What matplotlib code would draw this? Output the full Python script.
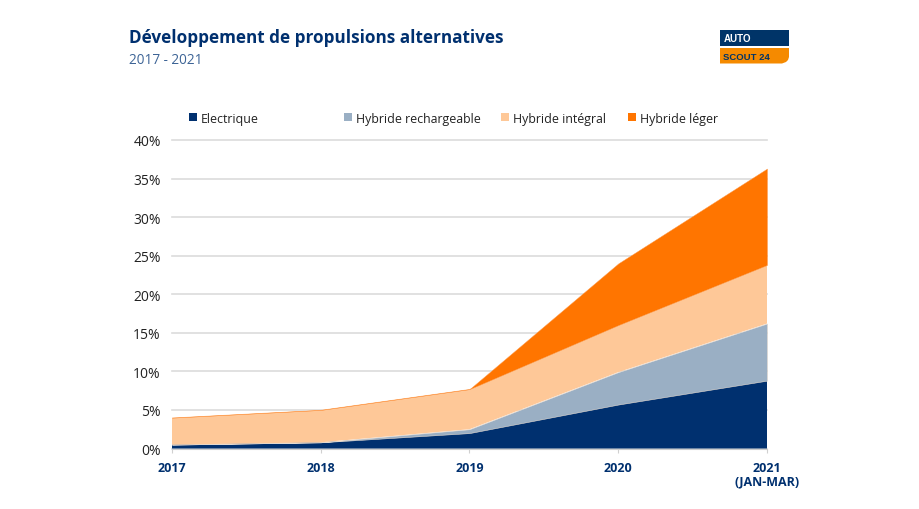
from matplotlib import pyplot as plt
from matplotlib.patches import Rectangle, Polygon

plt.rcParams['font.family'] = ['Open Sans', 'DejaVu Sans']

years = [0, 1, 2, 3, 4]
year_labels = ["2017", "2018", "2019", "2020", "2021\n(JAN-MAR)"]
electrique = [0.5, 0.8, 2.0, 5.7, 8.8]
rechargeable = [0.0, 0.0, 0.5, 4.2, 7.4]
integral = [3.5, 4.2, 5.2, 6.1, 7.6]
leger = [0.0, 0.0, 0.0, 8.0, 12.5]
series_names = ["Electrique", "Hybride rechargeable", "Hybride intégral", "Hybride léger"]
y_ticks = [0, 5, 10, 15, 20, 25, 30, 35, 40]

NAVY = "#00306f"
colors = ["#00306f", "#9aafc4", "#fec898", "#ff7500"]
W, H = 920, 510

fig = plt.figure(figsize=(W / 100, H / 100), dpi=100, facecolor="white")
ax = fig.add_axes([172 / W, 1 - 449.5 / H, (767 - 172) / W, (449.5 - 141) / H])

polys = ax.stackplot(years, electrique, rechargeable, integral, leger, colors=colors,
                     edgecolor="none", zorder=3)
# fines lignes entre les couches
polys[1].set_edgecolor("#e3d9cf")
polys[1].set_linewidth(0.4)
polys[3].set_edgecolor("#fd9c50")
polys[3].set_linewidth(0.3)

ax.set_xlim(0, 4)
ax.set_ylim(0, 40)
ax.set_yticks(y_ticks)
ax.set_yticklabels(["{}%".format(i) for i in y_ticks], fontsize=10, color="#222222")
ax.set_xticks(years)
ax.set_xticklabels(year_labels, fontsize=9, color=NAVY, fontweight="bold", linespacing=1.05)
ax.tick_params(axis="y", length=0, pad=8)
ax.tick_params(axis="x", length=3, width=0.8, color="#d0d0d0", pad=6)
for lab in ax.get_xticklabels():
    lab.set_verticalalignment("top")
ax.grid(axis="y", color="#dcdcdc", linewidth=1.2, zorder=0, clip_on=False)
ax.set_axisbelow(True)
for s in ax.spines.values():
    s.set_visible(False)
ax.spines["bottom"].set_visible(True)
ax.spines["bottom"].set_color("#cccccc")
ax.spines["bottom"].set_linewidth(0.8)

# titres
fig.text(129 / W, 1 - 38 / H, "Développement de propulsions alternatives", fontsize=12.3,
         fontweight="bold", color=NAVY, va="center")
fig.text(129 / W, 1 - 61 / H, "2017 - 2021", fontsize=9.8, color="#3d6496", va="center")

# legende
legend_x = [189, 344, 501, 628]
for name, col, lx in zip(series_names, colors, legend_x):
    fig.add_artist(Rectangle((lx / W, 1 - 122 / H), 8 / W, 8 / H, transform=fig.transFigure,
                             facecolor=col, edgecolor="none"))
    fig.text((lx + 12) / W, 1 - 119 / H, name, fontsize=8.9, color="#222222", va="center")

# logo
fig.add_artist(Rectangle((720 / W, 1 - 47 / H), 69 / W, 16 / H, transform=fig.transFigure,
                         facecolor="#003468", edgecolor="none"))
fig.add_artist(Polygon([(720 / W, 1 - 49 / H), (789 / W, 1 - 49 / H), (789 / W, 1 - 58 / H),
                        (788 / W, 1 - 61 / H), (786 / W, 1 - 63 / H), (782 / W, 1 - 64.5 / H),
                        (720 / W, 1 - 64.5 / H)], closed=True,
                       transform=fig.transFigure, facecolor="#f58a00", edgecolor="none"))
fig.text(723.5 / W, 1 - 39.5 / H, "AUTO", fontsize=7, fontweight="bold", color="white", va="center",
         family=["Liberation Sans"])
fig.text(723 / W, 1 - 57 / H, "SCOUT 24", fontsize=6.8, fontweight="bold", color="#003468", va="center",
         family=["Liberation Sans"])

plt.savefig("out.png", dpi=100)
